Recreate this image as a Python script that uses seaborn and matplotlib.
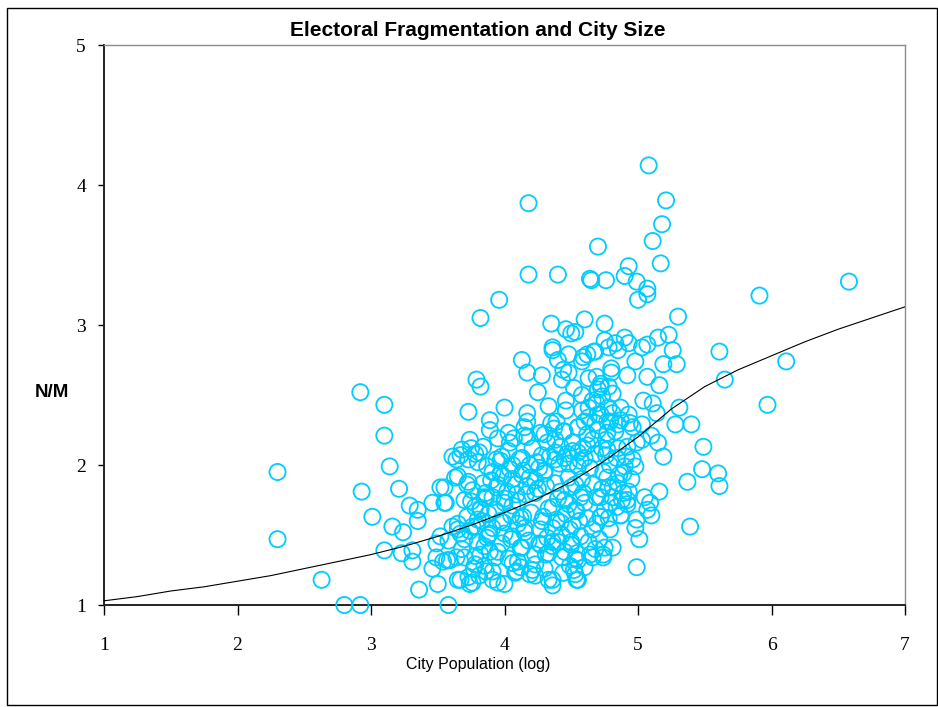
import matplotlib
matplotlib.use("Agg")
import matplotlib.pyplot as plt
from matplotlib.patches import Rectangle
import numpy as np
import pandas as pd
import seaborn as sns

# valores (log poblacion, N/M)
pop_left = [2.30, 2.30, 2.63, 2.80, 2.92, 2.92, 2.93, 3.01, 3.10, 3.10, 3.14, 3.10, 3.16,
            3.21, 3.24, 3.23, 3.29, 3.31, 3.31, 3.35, 3.35, 3.36, 3.46, 3.46, 3.49, 3.49,
            3.50, 3.52, 3.55, 3.56, 3.54, 3.58, 3.59, 3.58, 3.61, 3.63, 3.64, 3.64, 3.65, 3.65]
nm_left = [1.95, 1.47, 1.18, 1.00, 1.00, 2.52, 1.81, 1.63, 2.43, 2.21, 1.99, 1.39, 1.56,
           1.83, 1.52, 1.37, 1.71, 1.39, 1.31, 1.68, 1.60, 1.11, 1.73, 1.26, 1.44, 1.34,
           1.15, 1.84, 1.84, 1.73, 1.31, 1.46, 1.32, 1.00, 1.56, 1.91, 2.04, 1.34, 1.54, 1.18]

pop_mid = [3.67, 3.61, 3.72, 3.73, 3.73, 3.74, 3.75, 3.76, 3.79, 3.82, 3.82, 3.81, 3.74,
           3.81, 3.78, 3.85, 3.89, 3.88, 3.84, 3.90, 3.86, 3.82, 3.89, 3.96, 3.91, 4.00,
           3.95, 3.94, 3.97, 3.99, 4.03, 4.04, 4.07, 4.13, 4.18, 4.18, 4.17, 4.17, 4.17,
           4.15, 4.17, 4.09, 4.10, 4.21, 4.33, 4.27, 4.31, 4.35, 4.36, 4.36, 4.40, 4.46,
           4.50, 4.48, 4.40, 4.28, 4.44, 4.48, 4.43, 4.25, 4.33, 4.46, 4.46, 4.39, 4.35,
           4.44, 4.27, 4.32, 4.38, 4.42, 4.51, 4.55, 4.59, 4.66, 4.73, 4.06, 4.14, 4.19,
           4.24, 4.30, 4.38, 4.48, 4.55, 4.64, 3.55, 3.75, 3.82, 3.91, 4.00, 4.09, 4.14,
           4.23, 4.36, 4.45, 4.53, 4.60, 4.69, 4.75, 3.67, 3.79, 3.89, 3.99, 4.06, 4.15,
           4.27, 4.36, 4.42, 4.49, 4.57, 4.66, 3.52, 3.57, 3.70, 3.82, 3.93, 4.06, 4.12,
           4.23, 4.33, 4.43, 4.54, 4.66, 3.67, 3.76, 3.95, 4.08, 4.36, 4.54, 4.44]
nm_mid = [2.07, 2.06, 1.86, 2.04, 2.38, 2.18, 2.12, 1.56, 2.61, 2.56, 3.05, 2.09, 1.15,
          1.21, 1.29, 1.28, 1.38, 1.50, 1.87, 1.89, 1.76, 1.69, 2.32, 3.18, 1.18, 2.41,
          2.19, 2.04, 1.94, 1.92, 2.23, 2.16, 2.19, 2.75, 3.36, 3.87, 2.66, 2.37, 2.31,
          2.21, 2.20, 1.24, 1.31, 1.25, 1.18, 1.43, 1.36, 3.01, 2.84, 2.82, 3.36, 2.97,
          2.94, 2.79, 2.75, 2.64, 2.68, 2.66, 2.61, 2.52, 2.42, 2.46, 2.39, 2.31, 2.30,
          2.24, 2.23, 2.16, 2.18, 2.13, 2.16, 2.09, 2.12, 2.18, 2.12, 2.00, 1.96, 1.91,
          2.02, 1.96, 2.04, 2.01, 1.99, 1.98, 1.73, 1.74, 1.68, 1.77, 1.73, 1.79, 1.63,
          1.80, 1.70, 1.75, 1.68, 1.73, 1.77, 1.68, 1.51, 1.56, 1.51, 1.59, 1.49, 1.55,
          1.54, 1.45, 1.59, 1.54, 1.49, 1.54, 1.49, 1.32, 1.34, 1.36, 1.34, 1.30, 1.41,
          1.29, 1.37, 1.34, 1.37, 1.34, 1.18, 1.16, 1.16, 1.23, 1.18, 1.18, 1.23]

pop_core = [3.89, 4.15, 4.30, 4.37, 4.45, 3.68, 3.78, 3.84, 3.98, 4.03, 4.13, 4.21, 4.28,
            4.38, 4.45, 4.51, 3.65, 3.73, 3.91, 3.95, 4.06, 4.13, 4.17, 4.23, 4.30, 4.38,
            4.48, 4.53, 3.70, 3.78, 3.85, 3.93, 4.00, 4.06, 4.10, 4.33, 4.40, 4.48, 4.54,
            3.65, 3.74, 3.83, 3.91, 4.00, 4.10, 4.15, 4.28, 4.36, 4.43, 4.51, 3.68, 3.78,
            3.85, 3.95, 4.03, 4.13, 4.23, 4.36, 4.45, 4.53, 3.73, 3.91, 4.00, 4.23, 4.36,
            4.53, 4.55, 4.62, 4.70, 4.76, 4.83, 4.60, 4.68, 4.74, 4.84, 4.90, 4.58, 4.66,
            4.73, 4.86, 4.62, 4.69, 4.78, 4.84, 4.57, 4.63, 4.71, 4.92, 4.95, 4.60, 4.68,
            4.50, 4.52]
nm_core = [2.25, 2.27, 2.22, 2.26, 2.24, 2.11, 2.08, 2.13, 2.06, 2.10, 2.05, 2.12, 2.07,
           2.09, 2.05, 2.10, 1.92, 1.88, 1.95, 1.86, 1.90, 1.93, 1.85, 1.89, 1.94, 1.87,
           1.91, 1.86, 1.75, 1.70, 1.77, 1.68, 1.76, 1.71, 1.74, 1.69, 1.76, 1.72, 1.67,
           1.58, 1.53, 1.60, 1.55, 1.51, 1.58, 1.52, 1.60, 1.55, 1.50, 1.57, 1.40, 1.35,
           1.42, 1.38, 1.33, 1.41, 1.36, 1.42, 1.38, 1.33, 1.20, 1.24, 1.15, 1.21, 1.14,
           1.22, 2.27, 2.22, 2.25, 2.18, 2.24, 2.05, 2.08, 1.95, 2.05, 1.99, 1.90, 1.86,
           1.83, 1.93, 1.62, 1.58, 1.62, 1.70, 1.77, 1.45, 1.47, 1.72, 1.90, 1.27, 1.40,
           1.45, 1.25]

# segunda capa del nucleo denso
pop_core2 = [3.80, 3.87, 3.97, 4.04, 4.11, 4.19, 4.26, 4.34, 4.41, 4.47, 4.57, 3.76, 3.86,
             3.94, 4.02, 4.08, 4.16, 4.25, 4.31, 4.42, 4.50, 4.59, 3.72, 3.80, 3.88, 3.97,
             4.05, 4.12, 4.20, 4.29, 4.39, 4.46, 4.56, 3.70, 3.80, 3.87, 3.98, 4.05, 4.18,
             4.26, 4.32, 4.40, 4.50, 3.77, 3.86, 4.12, 4.19, 4.30, 4.49, 4.52, 4.58, 4.63,
             4.72, 4.80, 4.55, 4.62, 4.76, 4.85, 4.91]
nm_core2 = [2.02, 1.99, 2.03, 1.97, 2.04, 2.00, 1.98, 2.06, 2.01, 2.08, 2.03, 1.82, 1.80,
            1.84, 1.81, 1.86, 1.79, 1.83, 1.85, 1.81, 1.84, 1.80, 1.63, 1.61, 1.65, 1.60,
            1.64, 1.62, 1.66, 1.63, 1.61, 1.65, 1.60, 1.47, 1.45, 1.48, 1.44, 1.47, 1.46,
            1.44, 1.48, 1.45, 1.43, 1.26, 1.24, 1.27, 1.22, 1.26, 1.28, 2.55, 2.50, 2.62,
            2.58, 2.66, 2.27, 2.14, 2.07, 2.12, 2.06]

pop_right = [4.60, 4.59, 4.65, 4.70, 4.64, 4.76, 4.75, 4.67, 4.69, 4.70, 4.69, 4.63, 4.63,
             4.70, 4.79, 4.79, 4.90, 4.93, 4.99, 5.07, 5.07, 5.00, 5.08, 5.21, 5.18, 5.11,
             5.17, 6.58, 5.91, 5.30, 5.23, 5.15, 5.26, 5.29, 5.19, 5.16, 5.07, 5.61, 5.65,
             6.11, 5.97, 5.31, 5.04, 5.11, 5.14, 5.28, 5.40, 5.49, 5.48, 5.60, 5.61, 5.37,
             5.39, 5.19, 5.10, 5.15, 5.03, 4.96, 4.98, 5.16, 5.05, 5.09, 5.10, 5.07, 4.93,
             4.88, 4.81, 4.78, 4.85, 4.99, 4.98, 5.01, 4.87, 4.72, 4.79, 4.81, 4.75, 4.99,
             4.64, 4.74, 4.55, 4.55, 4.53, 4.75, 4.83, 4.90, 4.93, 4.78, 4.85, 4.62, 4.58,
             4.68, 5.03, 5.07, 4.98, 4.80, 4.92, 4.72, 4.78, 4.81, 4.73, 4.66, 4.87, 4.78,
             4.58, 4.72, 4.81, 4.87, 4.93, 4.60, 4.68, 4.77, 4.85, 4.94, 5.03, 4.77, 4.77,
             4.99, 4.92, 4.96, 4.89, 4.77, 4.81, 4.89, 4.72, 4.79, 4.92, 4.72, 4.87, 4.74]
nm_right = [3.04, 2.77, 3.32, 3.56, 3.33, 3.32, 3.01, 2.81, 2.63, 2.54, 2.44, 2.41, 2.34,
            2.36, 2.31, 2.00, 3.35, 3.42, 3.31, 3.26, 3.22, 3.18, 4.14, 3.89, 3.72, 3.60,
            3.44, 3.31, 3.21, 3.06, 2.93, 2.91, 2.82, 2.72, 2.72, 2.57, 2.63, 2.81, 2.61,
            2.74, 2.43, 2.41, 2.46, 2.44, 2.37, 2.29, 2.29, 2.13, 1.97, 1.94, 1.85, 1.88,
            1.56, 2.06, 2.21, 2.16, 2.18, 2.04, 1.99, 1.81, 1.77, 1.73, 1.64, 1.68, 1.81,
            1.75, 1.77, 1.84, 1.87, 1.61, 1.55, 1.47, 1.64, 1.63, 1.54, 1.41, 1.41, 1.27,
            1.36, 1.34, 1.32, 1.18, 2.95, 2.89, 2.87, 2.91, 2.87, 2.84, 2.82, 2.79, 2.74,
            2.81, 2.84, 2.86, 2.74, 2.69, 2.64, 2.56, 2.56, 2.51, 2.49, 2.46, 2.41, 2.41,
            2.39, 2.36, 2.37, 2.32, 2.36, 2.31, 2.30, 2.31, 2.29, 2.30, 2.29, 2.23, 2.11,
            2.16, 2.13, 2.27, 1.94, 1.91, 1.84, 1.80, 1.77, 1.73, 1.75, 1.63, 1.64, 1.36]

# curva ajustada
curve_x = [1.00, 1.25, 1.50, 1.75, 2.00, 2.25, 2.50, 2.75, 3.00, 3.25, 3.50, 3.75, 4.00,
           4.25, 4.50, 4.75, 5.00, 5.25, 5.50, 5.75, 6.00, 6.25, 6.50, 6.75, 7.00]
curve_y = [1.03, 1.06, 1.10, 1.13, 1.17, 1.21, 1.26, 1.31, 1.36, 1.42, 1.49, 1.57, 1.66,
           1.76, 1.88, 2.03, 2.20, 2.40, 2.56, 2.68, 2.78, 2.88, 2.97, 3.05, 3.13]

x_ticks = [1, 2, 3, 4, 5, 6, 7]
y_ticks = [1, 2, 3, 4, 5]

df = pd.DataFrame({
    "pop": pop_left + pop_mid + pop_core + pop_core2 + pop_right,
    "nm": nm_left + nm_mid + nm_core + nm_core2 + nm_right,
})

sns.set_style("white")
plt.rcParams["text.color"] = "black"

fig = plt.figure(figsize=(9.38, 7.07), dpi=100)
ax = fig.add_axes([104 / 938, 102 / 707, 801 / 938, 560 / 707])

sns.scatterplot(data=df, x="pop", y="nm", ax=ax, marker="o", s=135,
                facecolors="none", edgecolor="#00CCFF", linewidth=1.3,
                clip_on=False, zorder=3)
sns.lineplot(x=curve_x, y=curve_y, ax=ax, color="black", linewidth=0.8, zorder=4)

ax.set_xlim(1, 7)
ax.set_ylim(1, 5)
ax.set_xticks(x_ticks)
ax.set_yticks(y_ticks)
ax.set_xticklabels([str(t) for t in x_ticks], family="Liberation Serif", fontsize=14)
ax.set_yticklabels([str(t) for t in y_ticks], family="Liberation Serif", fontsize=14)
ax.tick_params(axis="x", direction="out", length=7, width=1, pad=16, colors="black")
ax.tick_params(axis="y", direction="out", length=4, width=1, pad=9, colors="black")
ax.tick_params(bottom=True, left=True)

for side in ["left", "bottom"]:
    ax.spines[side].set_color("#222222")
    ax.spines[side].set_linewidth(1.4)
for side in ["top", "right"]:
    ax.spines[side].set_color("#8c8c8c")
    ax.spines[side].set_linewidth(1.0)

ax.set_xlabel("")
ax.set_ylabel("")

fig.text(478 / 938, 1 - 31 / 707, "Electoral Fragmentation and City Size", color="black",
         ha="center", va="center", family="Liberation Sans", fontweight="bold", fontsize=15)
fig.text(52 / 938, 1 - 392 / 707, "N/M", ha="center", va="center", color="black",
         family="Liberation Sans", fontweight="bold", fontsize=13.5)
fig.text(478 / 938, 1 - 664 / 707, "City Population (log)", ha="center", va="center",
         color="black", family="Liberation Sans", fontsize=11.5)

# marco exterior
fig.patches.append(Rectangle((7 / 938, 2 / 707), 930 / 938, 697 / 707, transform=fig.transFigure,
                             fill=False, edgecolor="black", linewidth=1.0))

fig.savefig("out.png", dpi=100)
